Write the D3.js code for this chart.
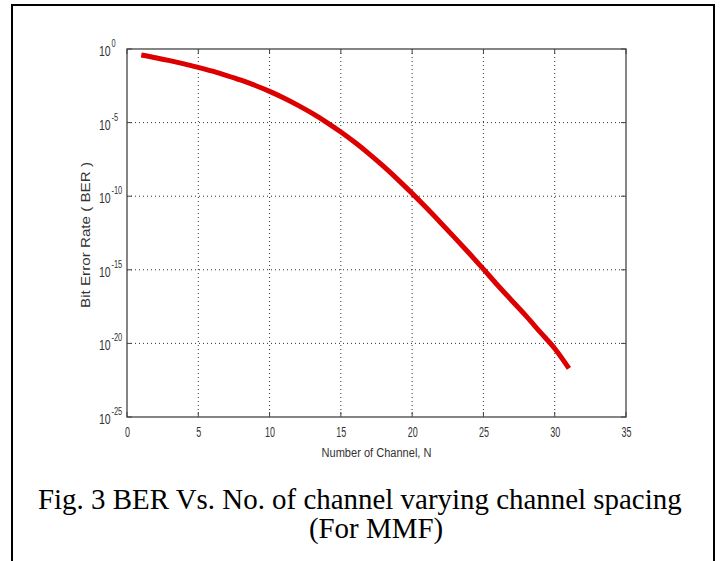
<!DOCTYPE html>
<html>
<head>
<meta charset="utf-8">
<script src="https://cdn.jsdelivr.net/npm/d3@7"></script>
<style>
  body { margin: 0; background: #fff; }
  svg { display: block; }
</style>
</head>
<body>
<div id="chartDiv"></div>
<script>
// number of channels (x) and the bit error rate
var channels = [1, 2, 3, 4, 5, 6, 7, 8, 9, 10, 11, 12, 13, 14, 15, 16, 17, 18, 19, 20,
                21, 22, 23, 24, 25, 26, 27, 28, 29, 30, 31];
var ber = [3.9e-1, 2.57e-1, 1.62e-1, 9.8e-2, 5.6e-2, 3.1e-2, 1.58e-2, 7.6e-3, 3.3e-3, 1.32e-3,
           4.7e-4, 1.48e-4, 4.2e-5, 1.05e-5, 2.3e-6, 4.4e-7, 7.2e-8, 1.05e-8, 1.35e-9, 1.55e-10,
           1.62e-11, 1.58e-12, 1.48e-13, 1.32e-14, 1.12e-15, 8.9e-17, 7.9e-18, 7.1e-19, 5.6e-20, 4.5e-21,
           2.0e-22];
var xTicks = [0, 5, 10, 15, 20, 25, 30, 35];
var yTicks = [1e-25, 1e-20, 1e-15, 1e-10, 1e-5, 1];
var yExps = ["-25", "-20", "-15", "-10", "-5", "0"];

var captionLines = ["Fig. 3 BER Vs. No. of channel varying channel spacing", "(For MMF)"];

var width = 723, height = 561;
var margin = {top: 49, right: 97, bottom: 144, left: 127};

var svg = d3.select("#chartDiv").append("svg")
    .attr("width", width)
    .attr("height", height);

svg.append("rect").attr("width", width).attr("height", height).attr("fill", "#fff");

// outer frame (open at the bottom)
svg.append("path")
    .attr("d", "M12,561 V5 H714 V561")
    .attr("fill", "none")
    .attr("stroke", "#000")
    .attr("stroke-width", 2);

var x = d3.scaleLinear()
    .domain([0, 35])
    .range([margin.left, width - margin.right]);

var y = d3.scaleLog()
    .domain([1e-25, 1])
    .range([height - margin.bottom, margin.top]);

var x0 = x.range()[0], x1 = x.range()[1];
var y0 = y.range()[0], y1 = y.range()[1];

// dotted grid
var grid = svg.append("g").attr("class", "grid");
grid.selectAll(".gx").data(xTicks.slice(1, -1)).enter().append("line")
    .attr("x1", d => x(d)).attr("x2", d => x(d))
    .attr("y1", y1).attr("y2", y0)
    .attr("stroke", "#333").attr("stroke-width", 1)
    .attr("stroke-dasharray", "1,3");
grid.selectAll(".gy").data(yTicks.slice(1, -1)).enter().append("line")
    .attr("x1", x0).attr("x2", x1)
    .attr("y1", d => y(d)).attr("y2", d => y(d))
    .attr("stroke", "#333").attr("stroke-width", 1)
    .attr("stroke-dasharray", "1,3");

// tick marks on all four sides, pointing inward
var tickLen = 5;
var ticks = svg.append("g").attr("stroke", "#444").attr("stroke-width", 1);
xTicks.forEach(function(d) {
    ticks.append("line").attr("x1", x(d)).attr("x2", x(d)).attr("y1", y0).attr("y2", y0 - tickLen);
    ticks.append("line").attr("x1", x(d)).attr("x2", x(d)).attr("y1", y1).attr("y2", y1 + tickLen);
});
yTicks.forEach(function(d) {
    ticks.append("line").attr("x1", x0).attr("x2", x0 + tickLen).attr("y1", y(d)).attr("y2", y(d));
    ticks.append("line").attr("x1", x1).attr("x2", x1 - tickLen).attr("y1", y(d)).attr("y2", y(d));
});

// box
svg.append("rect")
    .attr("x", x0).attr("y", y1)
    .attr("width", x1 - x0).attr("height", y0 - y1)
    .attr("fill", "none")
    .attr("stroke", "#444")
    .attr("stroke-width", 1.3);

// x tick labels (narrow matlab look)
var xAxis = d3.axisBottom(x).tickValues(xTicks).tickSize(0).tickPadding(0);
var gx = svg.append("g")
    .attr("transform", `translate(0, ${y0})`)
    .call(xAxis);
gx.select(".domain").remove();
gx.selectAll("text")
    .attr("y", 20)
    .attr("dy", null)
    .attr("fill", "#333")
    .style("font-family", "Liberation Sans, Arial, sans-serif")
    .style("font-size", "15px")
    .attr("transform", "scale(0.6,1)");

// y tick labels: 10 with exponent
var gy = svg.append("g").attr("class", "yLabels");
yTicks.forEach(function(d, i) {
    let t = gy.append("text")
        .attr("transform", `translate(99, ${y(d) + 7}) scale(0.75,1)`)
        .attr("fill", "#333")
        .style("font-family", "Liberation Sans, Arial, sans-serif")
        .style("font-size", "14px");
    t.append("tspan").text("10");
    t.append("tspan")
        .attr("dy", -9)
        .attr("dx", 1)
        .style("font-size", "10px")
        .text(yExps[i]);
});

// curve
var line = d3.line()
    .x((d, i) => x(channels[i]))
    .y(d => y(d))
    .curve(d3.curveMonotoneX);

svg.append("path")
    .datum(ber)
    .attr("fill", "none")
    .attr("stroke", "#dd0000")
    .attr("stroke-width", 5)
    .attr("stroke-linejoin", "round")
    .attr("d", line);

// axis titles
svg.append("text")
    .attr("x", (x0 + x1) / 2)
    .attr("y", 457)
    .attr("text-anchor", "middle")
    .attr("fill", "#333")
    .style("font-family", "Liberation Sans, Arial, sans-serif")
    .style("font-size", "12px")
    .attr("textLength", 110)
    .attr("lengthAdjust", "spacingAndGlyphs")
    .text("Number of Channel, N");

svg.append("text")
    .attr("transform", `translate(90, ${(y0 + y1) / 2 + 2}) rotate(-90)`)
    .attr("text-anchor", "middle")
    .attr("fill", "#333")
    .style("font-family", "Liberation Sans, Arial, sans-serif")
    .style("font-size", "12.5px")
    .attr("textLength", 146)
    .attr("lengthAdjust", "spacingAndGlyphs")
    .text("Bit Error Rate ( BER )");

// caption
var cap1 = svg.append("text")
    .attr("x", 38)
    .attr("y", 509)
    .attr("fill", "#000")
    .style("font-family", "Liberation Serif, Times New Roman, serif")
    .style("font-size", "22px")
    .text(captionLines[0]);
var w = cap1.node().getComputedTextLength();
var fs = 22 * 644 / w;
cap1.style("font-size", fs + "px");

svg.append("text")
    .attr("x", 376)
    .attr("y", 538)
    .attr("text-anchor", "middle")
    .attr("fill", "#000")
    .style("font-family", "Liberation Serif, Times New Roman, serif")
    .style("font-size", fs + "px")
    .text(captionLines[1]);
</script>
</body>
</html>
